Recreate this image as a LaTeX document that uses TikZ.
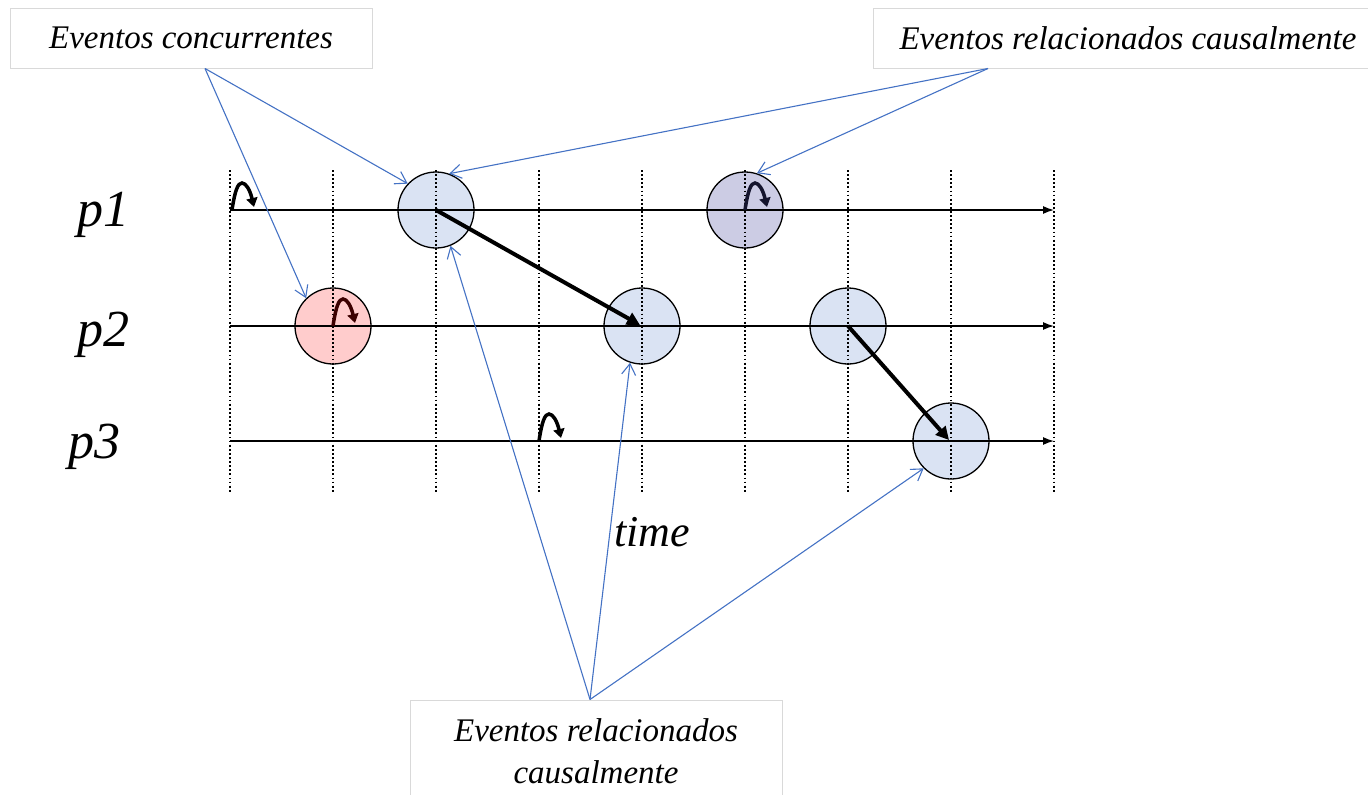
\documentclass[tikz,border=0pt]{standalone}
\usepackage{fontspec}
\setmainfont{Liberation Serif}
\usetikzlibrary{arrows.meta}
\definecolor{evblue}{RGB}{218,227,243}
\definecolor{evpink}{RGB}{255,204,204}
\definecolor{evlav}{RGB}{204,204,228}
\definecolor{linkblue}{RGB}{68,114,196}
\definecolor{boxgray}{RGB}{217,217,217}
\definecolor{hookred}{RGB}{60,0,0}
\definecolor{hooknavy}{RGB}{20,20,45}
\begin{document}
\begin{tikzpicture}[x=1pt,y=-1pt,
  ev/.style={circle,draw=black,line width=1.3pt,minimum size=76pt,inner sep=0pt},
  plabel/.style={font=\fontsize{52}{60}\selectfont\itshape,anchor=base west,inner sep=0pt},
  boxlabel/.style={draw=boxgray,line width=1pt,font=\fontsize{33}{42}\selectfont\itshape,align=center,inner sep=0pt},
  link/.style={draw=linkblue,line width=1.1pt,-{Straight Barb[length=11pt,width=14pt,line width=1.1pt]}},
  grid/.style={line width=1.8pt,dash pattern=on 1.8pt off 2.3pt},
  procline/.style={line width=1.3pt,-{Latex[length=11pt,width=8pt]}},
  msg/.style={line width=4pt,-{Triangle[length=13pt,width=13pt]}},
  hook/.style={line width=3.5pt,-{Triangle[length=9pt,width=11pt]}}
]
\useasboundingbox (0,0) rectangle (1368,795);
% event circles
\node[ev,fill=evblue] (c1) at (436,210) {};
\node[ev,fill=evlav]  (c2) at (745,210) {};
\node[ev,fill=evpink] (c3) at (333,326) {};
\node[ev,fill=evblue] (c4) at (642,326) {};
\node[ev,fill=evblue] (c5) at (848,326) {};
\node[ev,fill=evblue] (c6) at (951,441) {};
% dotted time grid
\foreach \i in {0,...,8} {
  \draw[grid] (230+103*\i,170) -- (230+103*\i,492);
}
% process lines
\coordinate (s1) at (230,210); \coordinate (e1) at (1054,210);
\coordinate (s2) at (230,326); \coordinate (e2) at (1054,326);
\coordinate (s3) at (230,441); \coordinate (e3) at (1054,441);
\draw[procline] (s1) -- (e1);
\draw[procline] (s2) -- (e2);
\draw[procline] (s3) -- (e3);
% labels
\node[plabel] (l1) at (77,226) {p1};
\node[plabel] (l2) at (77,346) {p2};
\node[plabel] (l3) at (68,458) {p3};
\node[font=\fontsize{44}{50}\selectfont\itshape,anchor=base west,inner sep=0pt] (tm) at (614,546) {time};
% messages
\draw[msg] (c1.center) -- ([xshift=-2pt,yshift=1pt]c4.center);
\draw[msg] (c5.center) -- ([xshift=-2pt,yshift=1pt]c6.center);
% internal events (hooks)
\foreach \x/\y/\c in {232/210/black, 333/326/hookred, 745/210/hooknavy, 539/441/black} {
  \draw[hook,draw=\c] (\x,\y) .. controls (\x+3,\y-20) and (\x+6,\y-27) .. (\x+10,\y-27)
     .. controls (\x+14,\y-27) and (\x+18,\y-20) .. (\x+22,\y-3);
}
% annotation boxes
\node[boxlabel,minimum width=362pt,minimum height=60pt] (b1) at (191,38) {Eventos concurrentes};
\node[boxlabel,minimum width=510pt,minimum height=60pt] (b2) at (1128,38) {Eventos relacionados causalmente};
\node[boxlabel,minimum width=372pt,minimum height=112pt] (b3) at (596,756) {\raisebox{5pt}[\height][\depth]{\parbox{372pt}{\centering Eventos relacionados\\causalmente}}};
% annotation links
\draw[link] ([xshift=14pt]b1.south) -- (c1.137);
\draw[link] ([xshift=14pt]b1.south) -- (c3.134);
\draw[link] ([xshift=-140pt]b2.south) -- (c1.70);
\draw[link] ([xshift=-140pt]b2.south) -- (c2.72);
\draw[link] ([xshift=-6pt]b3.north) -- (c1.292);
\draw[link] ([xshift=-6pt]b3.north) -- (c4.252);
\draw[link] ([xshift=-6pt]b3.north) -- (c6.225);
\end{tikzpicture}
\end{document}
